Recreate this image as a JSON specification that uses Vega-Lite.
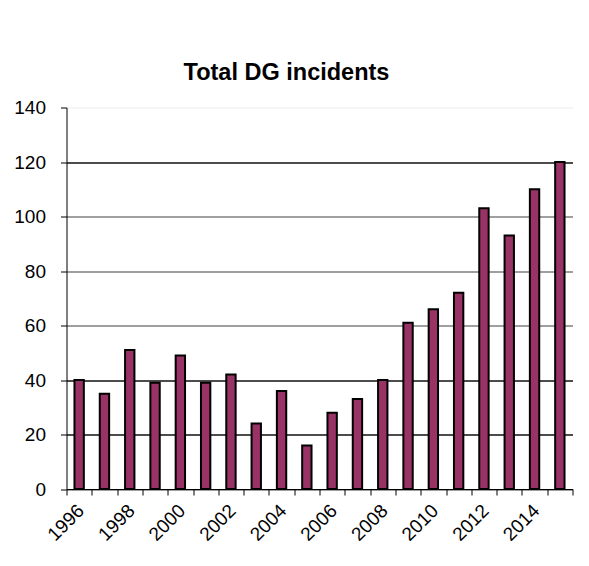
{
  "$schema": "https://vega.github.io/schema/vega-lite/v6.json",
  "autosize": {"type": "none"},
  "width": 506,
  "height": 381.5,
  "padding": {"left": 66.5, "top": 107.5, "right": 16.5, "bottom": 77},
  "background": "white",
  "title": {
    "text": "Total DG incidents",
    "font": "Liberation Sans",
    "fontSize": 23.5,
    "fontWeight": "bold",
    "color": "black",
    "anchor": "middle",
    "frame": "group",
    "baseline": "alphabetic",
    "dx": -33,
    "dy": 27,
    "offset": 22
  },
  "data": {
    "values": [
      {"year": 1996, "incidents": 40},
      {"year": 1997, "incidents": 35},
      {"year": 1998, "incidents": 51},
      {"year": 1999, "incidents": 39},
      {"year": 2000, "incidents": 49},
      {"year": 2001, "incidents": 39},
      {"year": 2002, "incidents": 42},
      {"year": 2003, "incidents": 24},
      {"year": 2004, "incidents": 36},
      {"year": 2005, "incidents": 16},
      {"year": 2006, "incidents": 28},
      {"year": 2007, "incidents": 33},
      {"year": 2008, "incidents": 40},
      {"year": 2009, "incidents": 61},
      {"year": 2010, "incidents": 66},
      {"year": 2011, "incidents": 72},
      {"year": 2012, "incidents": 103},
      {"year": 2013, "incidents": 93},
      {"year": 2014, "incidents": 110},
      {"year": 2015, "incidents": 120}
    ]
  },
  "mark": {
    "type": "bar",
    "fill": "#993366",
    "stroke": "black",
    "strokeWidth": 2,
    "width": {"band": 0.37}
  },
  "encoding": {
    "x": {
      "field": "year",
      "type": "ordinal",
      "scale": {"paddingInner": 0, "paddingOuter": 0},
      "axis": {
        "title": null,
        "tickBand": "extent",
        "tickSize": 6,
        "tickColor": "black",
        "domainColor": "black",
        "labelAngle": -45,
        "labelAlign": "right",
        "labelBaseline": "top",
        "labelPadding": 6,
        "labelOffset": -5,
        "labelFont": "Liberation Sans",
        "labelFontSize": 19,
        "labelColor": "black",
        "labelExpr": "datum.value % 2 == 0 ? datum.label : ''",
        "labelOverlap": false,
        "grid": false
      }
    },
    "y": {
      "field": "incidents",
      "type": "quantitative",
      "scale": {"domain": [0, 140], "nice": false},
      "axis": {
        "title": null,
        "values": [0, 20, 40, 60, 80, 100, 120, 140],
        "tickSize": 6,
        "tickColor": "black",
        "domainColor": "black",
        "labelPadding": 15,
        "labelFont": "Liberation Sans",
        "labelFontSize": 19,
        "labelColor": "black",
        "grid": true,
        "gridWidth": 1.3,
        "gridOpacity": 1,
        "gridColor": {
          "condition": [
            {"test": "datum.value === 140", "value": "#f2f2f2"},
            {"test": "datum.value === 20 || datum.value === 40 || datum.value === 120", "value": "#111111"}
          ],
          "value": "#7f7f7f"
        }
      }
    }
  },
  "config": {
    "view": {"stroke": null}
  }
}
